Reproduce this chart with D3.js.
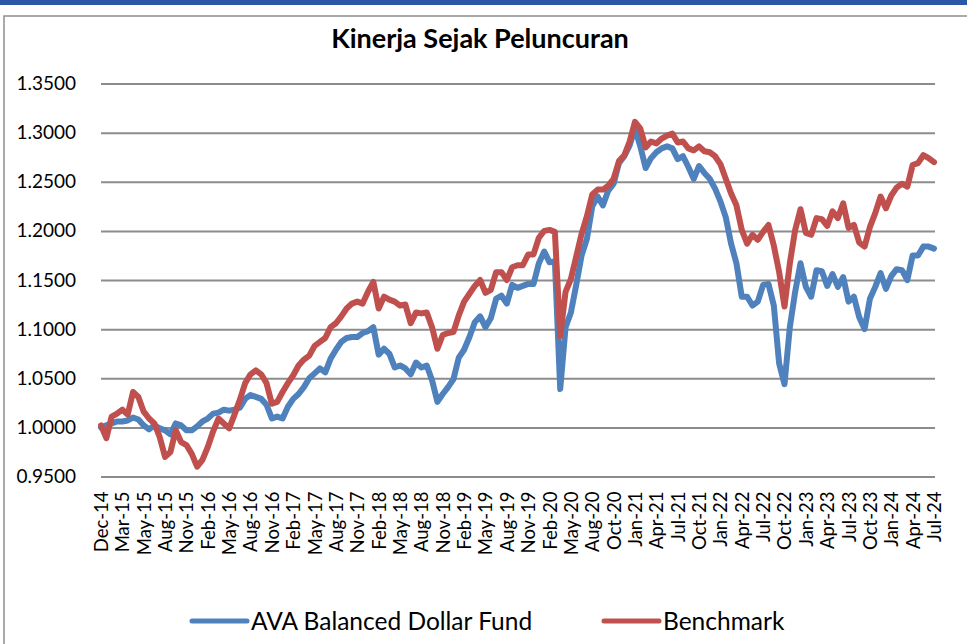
<!DOCTYPE html>
<html>
<head>
<meta charset="utf-8">
<script src="https://cdn.jsdelivr.net/npm/d3@7"></script>
<style>
  body { margin: 0; background: #fff; }
  svg { display: block; }
</style>
</head>
<body>
<script>
// chart data
var chartTitle = "Kinerja Sejak Peluncuran";
var seriesNames = ["AVA Balanced Dollar Fund", "Benchmark"];

var xLabels = ["Dec-14","Mar-15","May-15","Aug-15","Nov-15","Feb-16","May-16","Aug-16","Nov-16","Feb-17",
  "May-17","Aug-17","Nov-17","Feb-18","May-18","Aug-18","Nov-18","Feb-19","May-19","Aug-19",
  "Nov-19","Feb-20","May-20","Aug-20","Oct-20","Jan-21","Apr-21","Jul-21","Oct-21","Jan-22",
  "Apr-22","Jul-22","Oct-22","Jan-23","Apr-23","Jul-23","Oct-23","Jan-24","Apr-24","Jul-24"];

var yTicks = [0.95, 1.00, 1.05, 1.10, 1.15, 1.20, 1.25, 1.30, 1.35];

// AVA Balanced Dollar Fund (blue)
var fundValues = [
  1.000,1.002,1.004,1.006,1.006,1.007,1.010,1.008,1.002,0.998,
  1.002,0.999,0.997,0.993,1.004,1.002,0.997,0.997,1.001,1.006,
  1.009,1.014,1.015,1.018,1.017,1.018,1.020,1.029,1.033,1.031,
  1.029,1.023,1.009,1.011,1.009,1.021,1.029,1.034,1.041,1.050,
  1.055,1.060,1.056,1.070,1.079,1.087,1.091,1.092,1.092,1.096,
  1.098,1.102,1.074,1.080,1.075,1.061,1.063,1.060,1.054,1.066,
  1.061,1.063,1.048,1.026,1.034,1.041,1.049,1.071,1.079,1.092,
  1.107,1.113,1.102,1.111,1.131,1.134,1.126,1.145,1.142,1.144,
  1.146,1.146,1.167,1.179,1.168,1.169,1.039,1.102,1.117,1.145,
  1.175,1.192,1.225,1.235,1.226,1.241,1.248,1.269,1.276,1.287,
  1.304,1.286,1.264,1.274,1.280,1.284,1.286,1.284,1.273,1.276,
  1.265,1.253,1.266,1.259,1.253,1.243,1.230,1.214,1.187,1.167,
  1.133,1.133,1.124,1.128,1.145,1.146,1.124,1.065,1.044,1.102,
  1.138,1.167,1.143,1.133,1.160,1.159,1.144,1.156,1.143,1.153,
  1.128,1.133,1.112,1.100,1.131,1.143,1.157,1.141,1.154,1.161,
  1.160,1.150,1.175,1.175,1.184,1.184,1.182];

// Benchmark (red)
var benchmarkValues = [
  1.002,0.989,1.011,1.014,1.018,1.013,1.036,1.031,1.016,1.009,
  1.004,0.990,0.970,0.975,0.997,0.985,0.982,0.973,0.960,0.967,
  0.980,0.996,1.009,1.004,0.999,1.013,1.028,1.045,1.054,1.058,
  1.054,1.045,1.024,1.026,1.036,1.045,1.053,1.063,1.069,1.073,
  1.083,1.087,1.091,1.102,1.106,1.113,1.121,1.126,1.128,1.126,
  1.138,1.148,1.121,1.133,1.130,1.128,1.124,1.125,1.106,1.117,
  1.116,1.117,1.102,1.080,1.094,1.096,1.097,1.114,1.128,1.136,
  1.144,1.150,1.137,1.140,1.158,1.158,1.150,1.163,1.165,1.165,
  1.176,1.176,1.193,1.200,1.201,1.199,1.093,1.138,1.151,1.174,
  1.197,1.215,1.237,1.242,1.242,1.246,1.253,1.271,1.277,1.291,
  1.311,1.304,1.285,1.291,1.289,1.294,1.297,1.299,1.290,1.291,
  1.284,1.282,1.286,1.281,1.280,1.276,1.268,1.253,1.238,1.226,
  1.201,1.187,1.196,1.191,1.199,1.206,1.185,1.158,1.123,1.167,
  1.201,1.222,1.198,1.196,1.213,1.212,1.205,1.220,1.213,1.228,
  1.203,1.206,1.188,1.184,1.204,1.218,1.235,1.223,1.236,1.244,
  1.248,1.245,1.267,1.269,1.277,1.274,1.270];

var blue = "#4F81BD";
var red = "#C0504D";
var fontFamily = "Lato, 'Open Sans', sans-serif";

// svg container
var svgWidth = 967;
var svgHeight = 644;

var svg = d3.select("body")
  .append("svg")
  .attr("width", svgWidth)
  .attr("height", svgHeight);

// blue band on top of the page and the grey frame
svg.append("rect")
  .attr("x", 0).attr("y", 0)
  .attr("width", svgWidth).attr("height", 5)
  .attr("fill", "#2A57A6");

svg.append("rect")
  .attr("x", 4).attr("y", 16)
  .attr("width", svgWidth + 20).attr("height", svgHeight)
  .attr("fill", "none")
  .attr("stroke", "#8F8F8F")
  .attr("stroke-width", 1.5);

// title
svg.append("text")
  .attr("x", 480)
  .attr("y", 48)
  .attr("text-anchor", "middle")
  .attr("font-family", fontFamily)
  .attr("font-weight", "bold")
  .attr("font-size", 27)
  .attr("fill", "#000")
  .text(chartTitle);

// scales
var plotLeft = 101, plotRight = 935;
var xScale = d3.scaleLinear()
  .domain([0, fundValues.length - 1])
  .range([plotLeft, plotRight - 1]);

var yScale = d3.scaleLinear()
  .domain([0.95, 1.35])
  .range([476.5, 83.5]);

// gridlines + y labels
var yAxis = d3.axisLeft(yScale)
  .tickValues(yTicks)
  .tickFormat(d3.format(".4f"))
  .tickSize(-(plotRight - plotLeft))
  .tickPadding(25);

var yG = svg.append("g")
  .attr("transform", `translate(${plotLeft},0)`)
  .call(yAxis);
yG.select(".domain").remove();
yG.selectAll(".tick line")
  .attr("stroke", "#8C8C8C")
  .attr("stroke-width", 2);
yG.selectAll(".tick text")
  .attr("font-family", fontFamily)
  .attr("font-size", 19)
  .attr("fill", "#000");

// x labels, one every 4 points
var xAxis = d3.axisBottom(xScale)
  .tickValues(d3.range(0, fundValues.length, 4))
  .tickFormat((d, i) => xLabels[i])
  .tickSize(0);

var xG = svg.append("g")
  .attr("transform", "translate(0,476.5)")
  .call(xAxis);
xG.select(".domain").remove();
xG.selectAll(".tick text")
  .attr("font-family", fontFamily)
  .attr("font-size", 18.5)
  .attr("fill", "#000")
  .attr("text-anchor", "end")
  .attr("transform", "rotate(-90)")
  .attr("x", -15)
  .attr("y", 0)
  .attr("dy", "0.35em");

// lines
var line = d3.line()
  .x((d, i) => xScale(i))
  .y(d => yScale(d));

svg.append("path")
  .datum(fundValues)
  .attr("d", line)
  .attr("fill", "none")
  .attr("stroke", blue)
  .attr("stroke-width", 6)
  .attr("stroke-linejoin", "round")
  .attr("stroke-linecap", "round");

svg.append("path")
  .datum(benchmarkValues)
  .attr("d", line)
  .attr("fill", "none")
  .attr("stroke", red)
  .attr("stroke-width", 6)
  .attr("stroke-linejoin", "round")
  .attr("stroke-linecap", "round");

// legend
var legendItems = [
  { name: seriesNames[0], color: blue, x: 192 },
  { name: seriesNames[1], color: red, x: 604 }
];

var legend = svg.selectAll(".legend")
  .data(legendItems)
  .enter()
  .append("g")
  .attr("class", "legend")
  .attr("transform", d => `translate(${d.x},621)`);

legend.append("line")
  .attr("x1", 0).attr("x2", 55)
  .attr("y1", 0).attr("y2", 0)
  .attr("stroke", d => d.color)
  .attr("stroke-width", 5)
  .attr("stroke-linecap", "round");

legend.append("text")
  .attr("x", 59)
  .attr("y", 0)
  .attr("dy", "0.35em")
  .attr("font-family", fontFamily)
  .attr("font-size", 24.5)
  .attr("fill", "#000")
  .text(d => d.name);
</script>
</body>
</html>
